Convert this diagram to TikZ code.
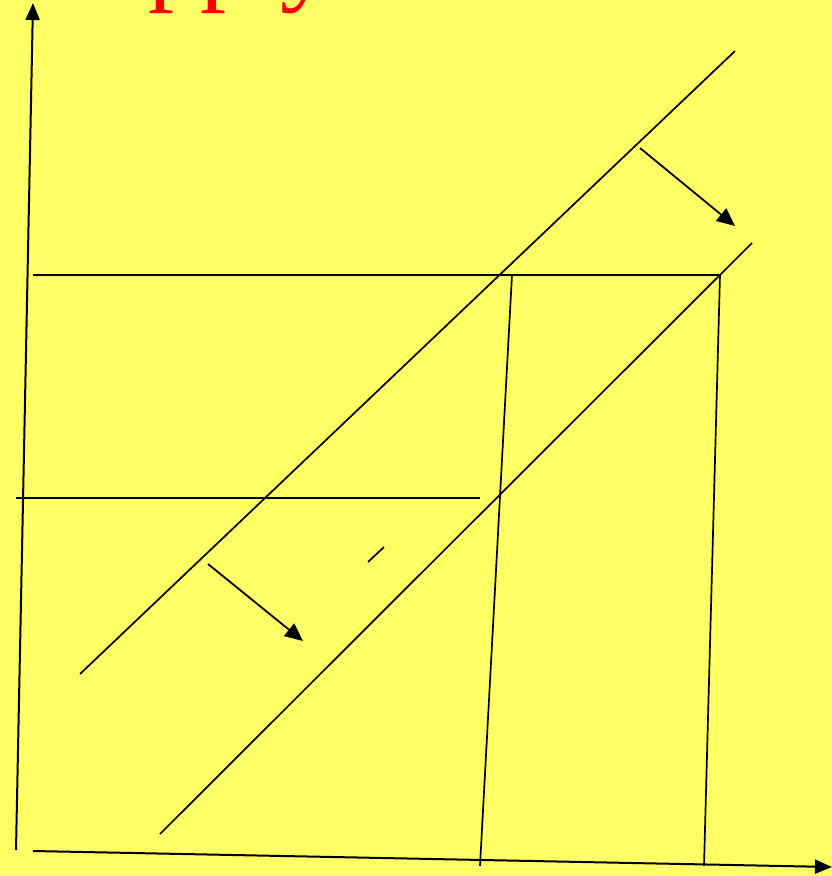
\documentclass[tikz,border=0pt]{standalone}
\usepackage{fontspec}
\setmainfont{Liberation Serif}
\usetikzlibrary{arrows.meta}
\definecolor{bgyellow}{RGB}{255,255,102}
\definecolor{titlered}{RGB}{255,0,0}
\begin{document}
\begin{tikzpicture}[x=1pt,y=-1pt,
  ln/.style={line width=1.7pt,black},
  ax/.style={line width=2pt,black,-{Triangle[length=17pt,width=14pt]}},
  shiftarrow/.style={line width=1.8pt,black,-{Triangle[length=18pt,width=16pt]}}]
\fill[bgyellow] (0,0) rectangle (832,876);
\useasboundingbox (0,0) rectangle (832,876);
\clip (0,0) rectangle (832,876);
% title (only the bottom shows)
\node[anchor=base west,inner sep=0pt,text=titlered,font=\fontsize{104}{110}\selectfont] (title) at (38,-9) {Supply};
% coordinates
\coordinate (yaxB) at (16,850);
\coordinate (yaxT) at (33,3);
\coordinate (xaxL) at (33,851);
\coordinate (xaxR) at (832,867);
\coordinate (sA) at (80,674);
\coordinate (sB) at (735,51);
\coordinate (tA) at (160,834);
\coordinate (tB) at (752,243);
\coordinate (hA) at (33,275);
\coordinate (hB) at (720,275);
\coordinate (gA) at (16,498);
\coordinate (gB) at (480,498);
\coordinate (vA) at (512,275);
\coordinate (vB) at (480,866);
\coordinate (wA) at (720,275);
\coordinate (wB) at (704,866);
\coordinate (a1s) at (640,148);
\coordinate (a1e) at (735,226);
\coordinate (a2s) at (208,564);
\coordinate (a2e) at (303,641);
\coordinate (kA) at (368,562);
\coordinate (kB) at (384,547);
% axes
\draw[ax] (yaxB) -- (yaxT);
\draw[ax] (xaxL) -- (xaxR);
% curves
\draw[ln] (sA) -- (sB);
\draw[ln] (tA) -- (tB);
\draw[ln] (hA) -- (hB);
\draw[ln] (gA) -- (gB);
\draw[ln] (vA) -- (vB);
\draw[ln] (wA) -- (wB);
\draw[ln] (kA) -- (kB);
% shift arrows
\draw[shiftarrow] (a1s) -- (a1e);
\draw[shiftarrow] (a2s) -- (a2e);
\end{tikzpicture}
\end{document}
